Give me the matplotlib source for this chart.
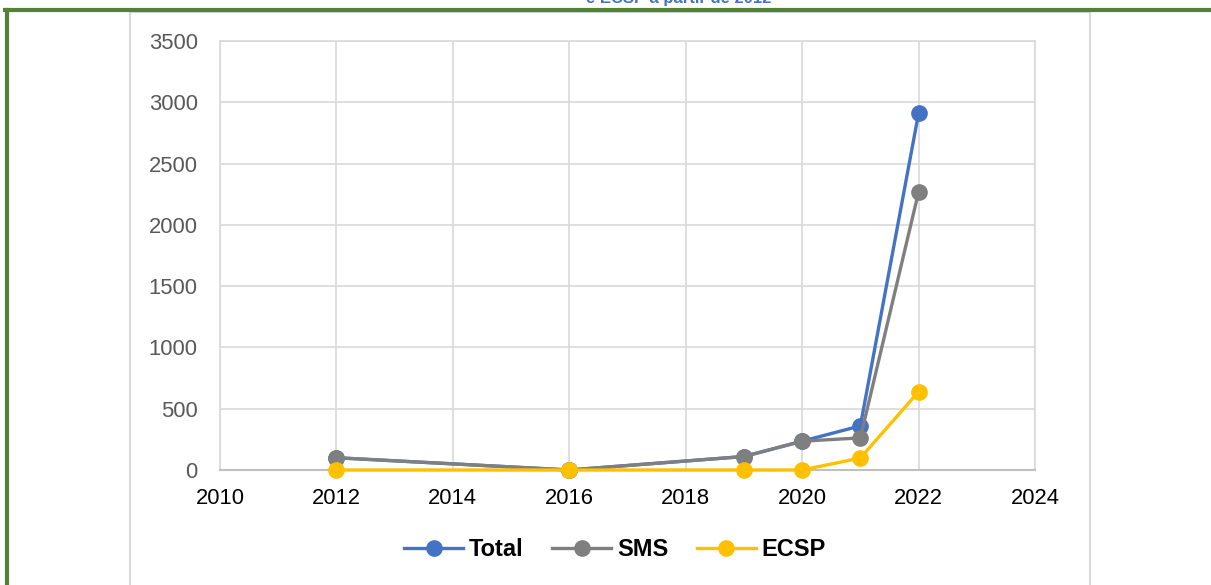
import matplotlib.pyplot as plt
from matplotlib.patches import Rectangle
from matplotlib.lines import Line2D

plt.rcParams['font.family'] = ['Liberation Sans', 'DejaVu Sans']

years = [2012, 2016, 2019, 2020, 2021, 2022]
total = [100, 0, 110, 235, 360, 2910]
sms = [100, 0, 110, 235, 262, 2268]
ecsp = [0, 0, 0, 0, 98, 638]

series = [
    ('Total', total, '#4472C4'),
    ('SMS', sms, '#7F7F7F'),
    ('ECSP', ecsp, '#FFC000'),
]

W, H = 1211, 585
fig = plt.figure(figsize=(W / 100, H / 100), dpi=100)
ax = fig.add_axes([220 / W, 1 - 470 / H, (1035 - 220) / W, (470 - 41) / H])

for name, vals, col in series:
    ax.plot(years, vals, color=col, lw=2.4, marker='o', markersize=11,
            label=name, clip_on=False, zorder=3)

ax.set_xlim(2010, 2024)
ax.set_ylim(0, 3500)
ax.set_xticks(range(2010, 2025, 2))
ax.set_yticks(range(0, 3501, 500))
ax.grid(True, color='#d9d9d9', lw=1.2)
ax.set_axisbelow(True)
ax.tick_params(length=0, labelsize=15.8)
ax.tick_params(axis='y', pad=16, labelcolor='#595959')
ax.tick_params(axis='x', pad=13, labelcolor='black')
for s in ['top', 'left', 'right']:
    ax.spines[s].set_color('#d9d9d9')
    ax.spines[s].set_linewidth(1.2)
ax.spines['bottom'].set_color('#bfbfbf')
ax.spines['bottom'].set_linewidth(1.5)

leg = fig.legend(loc='center', bbox_to_anchor=(615 / W, 1 - 550 / H), ncol=3,
                 frameon=False, handlelength=2.5, columnspacing=1.2,
                 handletextpad=0.25, prop={'weight': 'bold', 'size': 17})

# chart area border (runs past the bottom of the picture)
fig.patches.append(Rectangle((130 / W, -0.1), (1090 - 130) / W, 1.1 - 12 / H,
                             transform=fig.transFigure, fill=False,
                             edgecolor='#d9d9d9', lw=1.5))

# green page frame
green = '#548235'
fig.add_artist(Line2D([5 / W, 1], [1 - 10 / H, 1 - 10 / H], color=green, lw=3,
                      transform=fig.transFigure))
fig.add_artist(Line2D([7 / W, 7 / W], [0, 1 - 10 / H], color=green, lw=3,
                      transform=fig.transFigure))

# title, cut off at the top edge as in the original page crop
fig.text(679 / W, 1 - 3 / H, 'e ECSP a partir de 2012', color='#4472C4',
         fontsize=12, fontweight='bold', ha='center', va='baseline')

fig.savefig('out.png', dpi=100)
